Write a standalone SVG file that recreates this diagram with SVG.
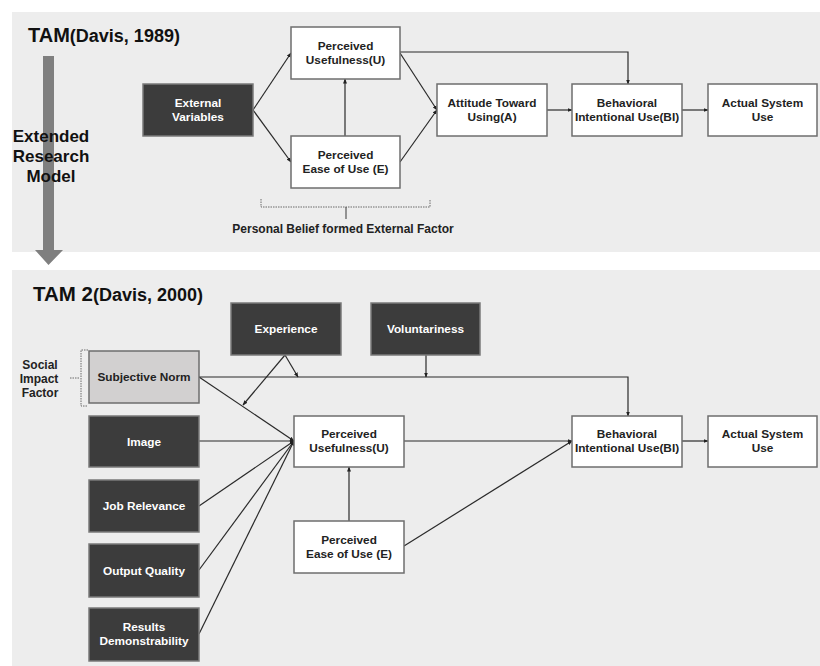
<svg xmlns="http://www.w3.org/2000/svg" width="820" height="666" viewBox="0 0 820 666">
<defs>
<marker id="ah" viewBox="0 0 10 10" refX="9" refY="5" markerWidth="5" markerHeight="5" orient="auto" markerUnits="userSpaceOnUse">
<path d="M0,1 L10,5 L0,9 z" fill="#222"/>
</marker>
<style>
.panel{fill:#ededed}
.dark{fill:#3c3c3c;stroke:#7a7a7a;stroke-width:1.5}
.white{fill:#ffffff;stroke:#6e6e6e;stroke-width:1.5}
.light{fill:#d2d0d0;stroke:#6e6e6e;stroke-width:1.5}
text{font-family:"Liberation Sans",Arial,sans-serif;font-weight:bold}
.tw{fill:#ffffff;font-size:11.8px;text-anchor:middle}
.tb{fill:#222222;font-size:11.8px;text-anchor:middle}
.lbl{fill:#222222;font-size:12px;text-anchor:middle}
.ttl{fill:#111111}
.conn{fill:none;stroke:#2a2a2a;stroke-width:1.2}
.dot{fill:none;stroke:#6a6a6a;stroke-width:1;stroke-dasharray:1.5 1}
</style>
</defs>

<rect class="panel" x="12" y="12" width="808" height="240"/>
<rect class="panel" x="12" y="270" width="808" height="396"/>

<polygon points="43,56 54,56 54,250 63,250 48.5,265 35,250 43,250" fill="#7f7f7f"/>

<text class="ttl" x="28" y="42"><tspan font-size="20">TAM</tspan><tspan font-size="18">(Davis, 1989)</tspan></text>
<text class="ttl" x="33" y="301"><tspan font-size="20.5">TAM 2</tspan><tspan font-size="18">(Davis, 2000)</tspan></text>

<g id="extended-label">
<text class="ttl" font-size="17" text-anchor="middle" x="51" y="142">Extended</text>
<text class="ttl" font-size="17" text-anchor="middle" x="51" y="162">Research</text>
<text class="ttl" font-size="17" text-anchor="middle" x="51" y="182">Model</text>
</g>

<g id="connectors">
<path class="conn" d="M253,110 L291,53" marker-end="url(#ah)"/>
<path class="conn" d="M253,110 L291,162" marker-end="url(#ah)"/>
<path class="conn" d="M345,136 L345,79" marker-end="url(#ah)"/>
<path class="conn" d="M400,53 L437,110" marker-end="url(#ah)"/>
<path class="conn" d="M400,162 L437,110" marker-end="url(#ah)"/>
<path class="conn" d="M400,52 H628 V84" marker-end="url(#ah)"/>
<path class="conn" d="M547,110 H572" marker-end="url(#ah)"/>
<path class="conn" d="M682,110 H708" marker-end="url(#ah)"/>

<path class="conn" d="M199,377 H628 V416" marker-end="url(#ah)"/>
<path class="conn" d="M426,355 V377" marker-end="url(#ah)"/>
<path class="conn" d="M285,355 L298,377" marker-end="url(#ah)"/>
<path class="conn" d="M285,355 L243,405" marker-end="url(#ah)"/>
<path class="conn" d="M199,377 L294,441" marker-end="url(#ah)"/>
<path class="conn" d="M199,441 H294" marker-end="url(#ah)"/>
<path class="conn" d="M199,506 L294,441" marker-end="url(#ah)"/>
<path class="conn" d="M199,570 L294,441" marker-end="url(#ah)"/>
<path class="conn" d="M199,634 L294,441" marker-end="url(#ah)"/>
<path class="conn" d="M349,521 V467" marker-end="url(#ah)"/>
<path class="conn" d="M404,441 H572" marker-end="url(#ah)"/>
<path class="conn" d="M404,546 L572,441" marker-end="url(#ah)"/>
<path class="conn" d="M682,441 H708" marker-end="url(#ah)"/>
</g>

<g id="belief-bracket">
<path class="dot" d="M261,199 V207 H430 V199"/>
<path d="M346,207 V219" stroke="#555" stroke-width="1.2" fill="none"/>
<text class="lbl" x="343" y="233">Personal Belief formed External Factor</text>
</g>

<g id="social-bracket">
<path class="dot" d="M88,350 H81 V406 H88"/>
<path class="dot" d="M70,378 H80"/>
<text class="lbl" x="40" y="369">Social</text>
<text class="lbl" x="39" y="383">Impact</text>
<text class="lbl" x="40" y="397">Factor</text>
</g>

<g id="external-variables"><rect class="dark" x="143" y="84" width="110" height="52"/><text class="tw" x="198" y="107">External</text><text class="tw" x="198" y="121">Variables</text></g>
<g id="pu1"><rect class="white" x="291" y="27" width="109" height="52"/><text class="tb" x="345.5" y="50">Perceived</text><text class="tb" x="345.5" y="64">Usefulness(U)</text></g>
<g id="pe1"><rect class="white" x="291" y="136" width="109" height="52"/><text class="tb" x="345.5" y="159">Perceived</text><text class="tb" x="345.5" y="173">Ease of Use (E)</text></g>
<g id="attitude"><rect class="white" x="437" y="84" width="110" height="52"/><text class="tb" x="492" y="107">Attitude Toward</text><text class="tb" x="492" y="121">Using(A)</text></g>
<g id="bi1"><rect class="white" x="572" y="84" width="110" height="52"/><text class="tb" x="627" y="107">Behavioral</text><text class="tb" x="627" y="121">Intentional Use(BI)</text></g>
<g id="asu1"><rect class="white" x="708" y="84" width="109" height="52"/><text class="tb" x="762.5" y="107">Actual System</text><text class="tb" x="762.5" y="121">Use</text></g>

<g id="experience"><rect class="dark" x="231" y="303" width="110" height="52"/><text class="tw" x="286" y="333">Experience</text></g>
<g id="voluntariness"><rect class="dark" x="371" y="303" width="109" height="52"/><text class="tw" x="425.5" y="333">Voluntariness</text></g>
<g id="subjective-norm"><rect class="light" x="89" y="351" width="110" height="52"/><text class="tb" x="144" y="381">Subjective Norm</text></g>
<g id="image"><rect class="dark" x="89" y="416" width="110" height="51"/><text class="tw" x="144" y="446">Image</text></g>
<g id="job-relevance"><rect class="dark" x="89" y="480" width="110" height="52"/><text class="tw" x="144" y="510">Job Relevance</text></g>
<g id="output-quality"><rect class="dark" x="89" y="544" width="110" height="53"/><text class="tw" x="144" y="575">Output Quality</text></g>
<g id="results-demonstrability"><rect class="dark" x="89" y="608" width="110" height="53"/><text class="tw" x="144" y="631">Results</text><text class="tw" x="144" y="645">Demonstrability</text></g>
<g id="pu2"><rect class="white" x="294" y="416" width="110" height="51"/><text class="tb" x="349" y="438">Perceived</text><text class="tb" x="349" y="452">Usefulness(U)</text></g>
<g id="pe2"><rect class="white" x="294" y="521" width="110" height="52"/><text class="tb" x="349" y="544">Perceived</text><text class="tb" x="349" y="558">Ease of Use (E)</text></g>
<g id="bi2"><rect class="white" x="572" y="416" width="110" height="51"/><text class="tb" x="627" y="438">Behavioral</text><text class="tb" x="627" y="452">Intentional Use(BI)</text></g>
<g id="asu2"><rect class="white" x="708" y="416" width="109" height="51"/><text class="tb" x="762.5" y="438">Actual System</text><text class="tb" x="762.5" y="452">Use</text></g>
</svg>
